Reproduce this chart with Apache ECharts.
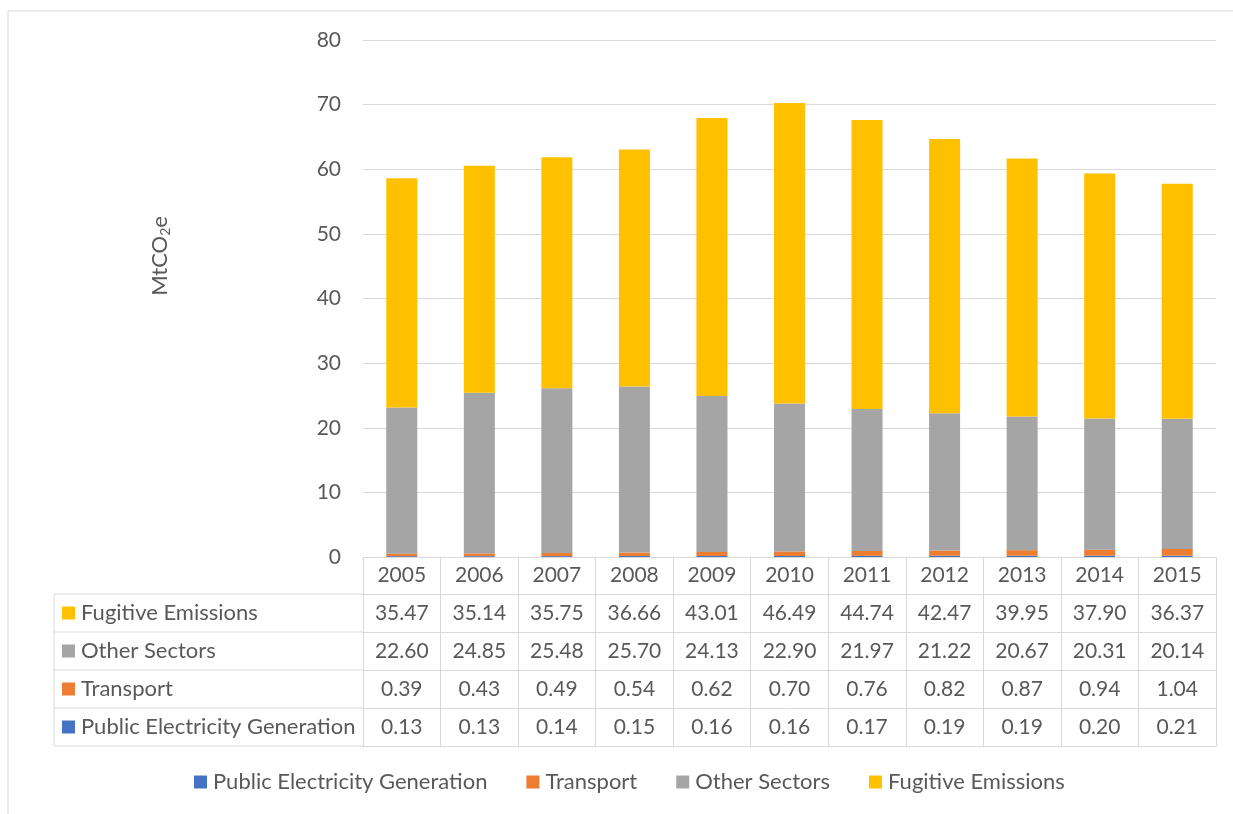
<!DOCTYPE html>
<html>
<head>
<meta charset="utf-8">
<script src="https://cdn.jsdelivr.net/npm/echarts@6/dist/echarts.min.js"></script>
<style>
html,body{margin:0;padding:0;background:#fff;}
#chart{width:1233px;height:814px;}
</style>
</head>
<body>
<div id="chart"></div>
<script>
// ---------- data ----------
const years = ['2005','2006','2007','2008','2009','2010','2011','2012','2013','2014','2015'];
const publicElectricity = [0.13,0.13,0.14,0.15,0.16,0.16,0.17,0.19,0.19,0.20,0.21];
const transport = [0.39,0.43,0.49,0.54,0.62,0.70,0.76,0.82,0.87,0.94,1.04];
const otherSectors = [22.60,24.85,25.48,25.70,24.13,22.90,21.97,21.22,20.67,20.31,20.14];
const fugitiveEmissions = [35.47,35.14,35.75,36.66,43.01,46.49,44.74,42.47,39.95,37.90,36.37];
const seriesNames = ['Public Electricity Generation','Transport','Other Sectors','Fugitive Emissions'];
const seriesColors = ['#4472C4','#ED7D31','#A5A5A5','#FFC000'];
const yMin = 0, yMax = 80, yStep = 10;

// ---------- layout ----------
const FONT = 'Lato';
const FS = 21;      // numbers
const FS_T = 22;    // names
const TXT = '#595959';
const LINE = '#d9d9d9';
const GRID = {left: 363, right: 17, top: 40, bottom: 257};
const CH = 814, CW = 1233;
const AXIS_Y = CH - GRID.bottom;   // 557
const HEADER_H = 37, ROW_H = 38;
const TABLE_LEFT = 54;

const allData = [publicElectricity, transport, otherSectors, fugitiveEmissions];
// table rows from top to bottom
const tableRows = [3,2,1,0].map(i => ({name: seriesNames[i], color: seriesColors[i], data: allData[i]}));
const tableBottomOffset = HEADER_H + ROW_H * tableRows.length;

const chart = echarts.init(document.getElementById('chart'), null, {renderer: 'canvas'});

const xAxes = [{
  type: 'category', data: years, gridIndex: 0, position: 'bottom', offset: 0,
  axisLine: {show: true, lineStyle: {color: LINE, width: 1}},
  axisTick: {show: true, interval: 0, length: tableBottomOffset, lineStyle: {color: LINE, width: 1}},
  axisLabel: {interval: 0, margin: 8, color: TXT, fontFamily: FONT, fontSize: FS}
}];
tableRows.forEach((row, k) => {
  xAxes.push({
    type: 'category', data: years, gridIndex: 0, position: 'bottom',
    offset: HEADER_H + ROW_H * k,
    axisLine: {show: true, lineStyle: {color: LINE, width: 1}},
    axisTick: {show: false},
    axisLabel: {interval: 0, margin: 9, color: TXT, fontFamily: FONT, fontSize: FS,
      formatter: (v, i) => row.data[i].toFixed(2)}
  });
});
xAxes.push({
  type: 'category', data: years, gridIndex: 0, position: 'bottom', offset: tableBottomOffset,
  axisLine: {show: true, lineStyle: {color: LINE, width: 1}},
  axisTick: {show: false}, axisLabel: {show: false}
});

// left column of the data table
const graphics = [];
graphics.push({type: 'rect', shape: {x: 8, y: 11, width: CW + 50, height: CH + 50},
  style: {fill: 'none', stroke: LINE, lineWidth: 1}, silent: true});
const firstRowY = AXIS_Y + HEADER_H;
for (let k = 0; k <= tableRows.length; k++) {
  const y = firstRowY + ROW_H * k;
  graphics.push({type: 'line', shape: {x1: TABLE_LEFT, y1: y, x2: GRID.left, y2: y},
    style: {stroke: LINE, lineWidth: 1}, silent: true});
}
graphics.push({type: 'line', shape: {x1: TABLE_LEFT, y1: firstRowY, x2: TABLE_LEFT, y2: firstRowY + ROW_H * tableRows.length},
  style: {stroke: LINE, lineWidth: 1}, silent: true});
tableRows.forEach((row, k) => {
  const cy = firstRowY + ROW_H * k + ROW_H / 2;
  graphics.push({type: 'rect', shape: {x: TABLE_LEFT + 8, y: cy - 6.5, width: 13, height: 13},
    style: {fill: row.color}, silent: true});
  graphics.push({type: 'text', x: TABLE_LEFT + 27, y: cy,
    style: {text: row.name, fill: TXT, font: FS_T + 'px ' + FONT, verticalAlign: 'middle', align: 'left'}, silent: true});
});
// y axis title
graphics.push({type: 'text', x: 160, y: 256, rotation: Math.PI / 2,
  style: {text: '{a|MtCO}{s|2}{a|e}', fill: TXT, align: 'center', verticalAlign: 'middle',
    rich: {a: {fontFamily: FONT, fontSize: FS_T, fill: TXT},
           s: {fontFamily: FONT, fontSize: 14, fill: TXT, padding: [10, 0, 0, 0]}}}, silent: true});

const series = seriesNames.map((name, i) => ({
  name: name, type: 'bar', stack: 'total', xAxisIndex: 0, yAxisIndex: 0,
  barWidth: '40%', data: allData[i], itemStyle: {color: seriesColors[i]},
  emphasis: {disabled: true}
}));

chart.setOption({
  animation: false,
  backgroundColor: '#fff',
  textStyle: {fontFamily: FONT},
  grid: {left: GRID.left, right: GRID.right, top: GRID.top, bottom: GRID.bottom, outerBoundsMode: 'none'},
  legend: {
    data: seriesNames, left: 189, top: 766, icon: 'rect', itemWidth: 13, itemHeight: 13, itemGap: 39,
    textStyle: {color: TXT, fontFamily: FONT, fontSize: FS_T, padding: [0, 0, 0, 1]}
  },
  xAxis: xAxes,
  yAxis: {
    type: 'value', min: yMin, max: yMax, interval: yStep,
    axisLine: {show: false}, axisTick: {show: false},
    axisLabel: {margin: 22, color: TXT, fontFamily: FONT, fontSize: FS},
    splitLine: {lineStyle: {color: LINE, width: 1}}
  },
  series: series,
  graphic: graphics
});
</script>
</body>
</html>
